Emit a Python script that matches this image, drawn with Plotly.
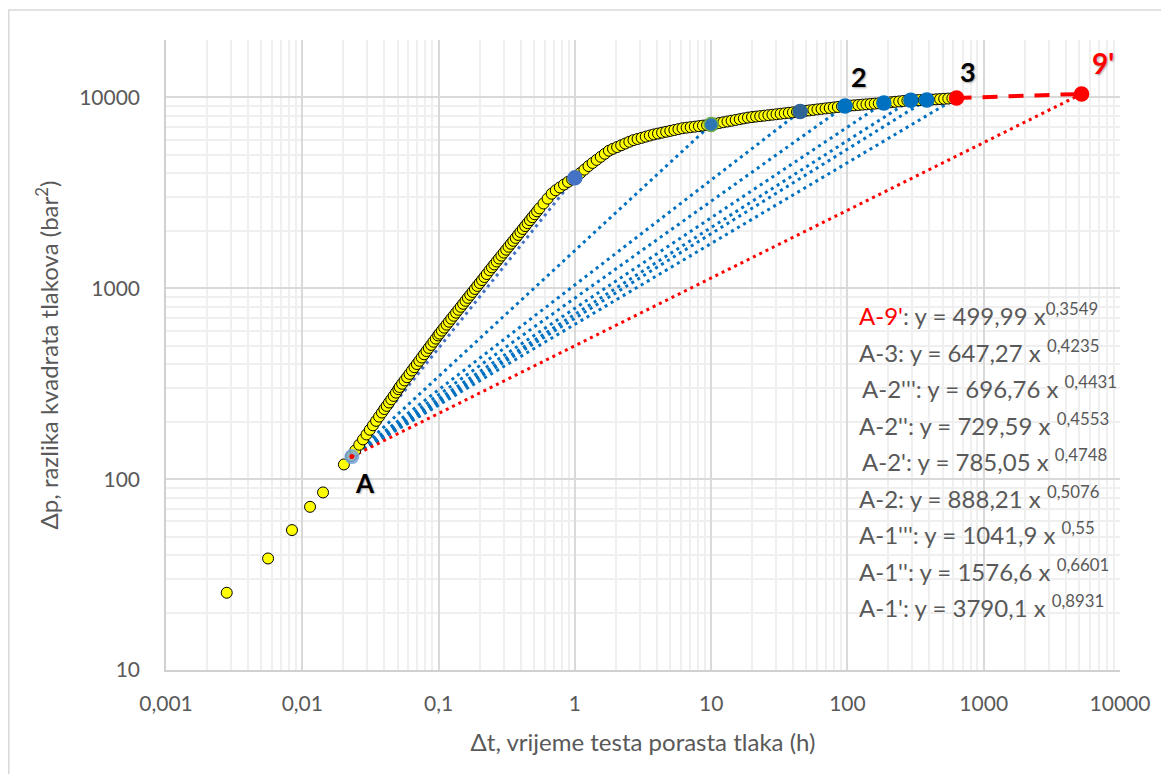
import numpy as np
import plotly.graph_objects as go

# ---------------- data ----------------
# measured build-up data: time (h) and delta p^2 (bar^2)
t_h = [0.00279, 0.00561, 0.0084, 0.0114, 0.0142, 0.0202,
       0.0229, 0.0245, 0.0262, 0.0279, 0.0296, 0.0313, 0.0330, 0.0348, 0.0366, 0.0384,
       0.0400, 0.0416, 0.0433, 0.0450, 0.0468, 0.0487, 0.0507, 0.0518, 0.0540, 0.0563,
       0.0587, 0.0612, 0.0638, 0.0665, 0.0693, 0.0722, 0.0752, 0.0783, 0.0815, 0.0848,
       0.0882, 0.0917, 0.0954, 0.0992, 0.1016, 0.1057, 0.1100, 0.1145, 0.1192, 0.1240,
       0.1291, 0.1344, 0.1398, 0.1455, 0.1514, 0.1576, 0.1640, 0.1707, 0.1776, 0.1848,
       0.1924, 0.2002, 0.2084, 0.2169, 0.2257, 0.2366, 0.2463, 0.2564, 0.2669, 0.2778,
       0.2892, 0.3010, 0.3133, 0.3261, 0.3395, 0.3534, 0.3679, 0.3830, 0.3987, 0.4150,
       0.4320, 0.4497, 0.4681, 0.4873, 0.5073, 0.5281, 0.5495, 0.589, 0.631, 0.676,
       0.724, 0.776, 0.832, 0.891, 0.955, 1.023, 1.096, 1.175, 1.259, 1.349,
       1.445, 1.549, 1.660, 1.778, 1.905, 2.042, 2.188, 2.344, 2.512, 2.692,
       2.884, 3.090, 3.311, 3.548, 3.802, 4.074, 4.365, 4.677, 5.012, 5.370,
       5.754, 6.166, 6.607, 7.079, 7.586, 8.128, 8.710, 9.333, 10.0, 10.72,
       11.48, 12.30, 13.18, 14.13, 15.14, 16.22, 17.38, 18.62, 19.95, 21.38,
       22.91, 24.55, 26.30, 28.18, 30.20, 32.36, 34.67, 37.15, 39.81, 42.66,
       45.71, 48.98, 52.48, 56.23, 60.26, 64.57, 69.18, 74.13, 79.43, 85.11,
       91.20, 97.72, 104.7, 112.2, 120.2, 128.8, 138.0, 147.9, 158.5, 169.8,
       182.0, 195.0, 208.9, 223.9, 239.9, 257.0, 275.4, 295.1, 316.2, 338.8,
       363.1, 389.0, 416.9, 446.7, 478.6, 512.9, 549.5, 588.8]
dp_bar2 = [25.4, 38.4, 54.1, 71.6, 85.2, 119.4,
           132, 141.5, 151.5, 161.5, 171.5, 181.5, 191.5, 202, 212.6, 223.3,
           233, 242, 252, 262, 273, 284, 296, 304, 316, 329,
           342, 356, 371, 386, 401, 417, 434, 451, 469, 487,
           505, 525, 545, 566, 579, 600, 622, 645, 668, 693,
           718, 745, 772, 800, 829, 860, 891, 924, 957, 992,
           1029, 1066, 1105, 1146, 1188, 1242, 1287, 1334, 1382, 1432,
           1484, 1538, 1593, 1651, 1711, 1773, 1837, 1904, 1973, 2045,
           2119, 2195, 2275, 2358, 2443, 2532, 2623, 2782, 2951, 3131,
           3262, 3376, 3495, 3609, 3717, 3845, 4012, 4187, 4369, 4538,
           4709, 4886, 5069, 5259, 5381, 5497, 5615, 5735, 5859, 5975,
           6059, 6144, 6231, 6318, 6401, 6469, 6539, 6609, 6680, 6752,
           6825, 6900, 6943, 6987, 7031, 7075, 7119, 7165, 7210, 7278,
           7346, 7413, 7483, 7553, 7624, 7695, 7768, 7840, 7893, 7938,
           7983, 8028, 8074, 8120, 8166, 8213, 8260, 8307, 8354, 8402,
           8452, 8503, 8554, 8605, 8657, 8709, 8761, 8810, 8863, 8916,
           8970, 9021, 9057, 9094, 9130, 9168, 9204, 9242, 9279, 9317,
           9354, 9391, 9441, 9487, 9535, 9583, 9632, 9674, 9681, 9690,
           9698, 9712, 9744, 9775, 9807, 9836, 9869, 9901]

# start point A and end points of the fitted lines
point_A = (0.0231, 131.3)
end_names = ["1'", "1''", "1'''", "2", "2'", "2''", "2'''", "3", "9'"]
end_x = [1.0, 10.0, 45.0, 96.0, 185.0, 292.0, 382.0, 632.0, 5224.0]
end_y = [3790, 7210, 8440, 9010, 9360, 9675, 9706, 9934, 10434]
end_colors = ["#4472C4", "#2E75B6", "#2F6497", "#0070C0", "#0070C0", "#0070C0",
              "#0070C0", "#FF0000", "#FF0000"]
line_colors = ["#4472C4", "#0070C0", "#0070C0", "#0070C0", "#0070C0", "#0070C0",
               "#0070C0", "#0070C0", "#FF0000"]

# trend line equations (label, coefficient, exponent)
eq_labels = ["A-9'", "A-3", "A-2'''", "A-2''", "A-2'", "A-2", "A-1'''", "A-1''", "A-1'"]
eq_coef = ["499,99", "647,27", "696,76", "729,59", "785,05", "888,21", "1041,9", "1576,6", "3790,1"]
eq_exp = ["0,3549", "0,4235", "0,4431", "0,4553", "0,4748", "0,5076", "0,55", "0,6601", "0,8931"]

x_tickvals = [0.001, 0.01, 0.1, 1, 10, 100, 1000, 10000]
x_ticktext = ["0,001", "0,01", "0,1", "1", "10", "100", "1000", "10000"]
y_tickvals = [10, 100, 1000, 10000]
y_ticktext = ["10", "100", "1000", "10000"]

# ---------------- figure ----------------
FONT = "Lato"
GREY = "#595959"
# page body has an 8px margin: plot area wanted at x 166..1120, y 40..670 on screen
OFF = 8
PL, PR, PT, PB = 166, 1120, 40, 670
PW, PH = PR - PL, PB - PT
FIG_W, FIG_H = 1169 - 2 * OFF, 782 - 2 * OFF

fig = go.Figure()

# dotted fit lines A -> end point
for name, ex, ey, lc in zip(end_names, end_x, end_y, line_colors):
    fig.add_trace(go.Scatter(x=[point_A[0], ex], y=[point_A[1], ey], mode="lines",
                             line=dict(color=lc, width=3, dash="3px,4px"),
                             hoverinfo="skip", showlegend=False))

# dashed 3 -> 9'
fig.add_trace(go.Scatter(x=[end_x[7], end_x[8]], y=[end_y[7], end_y[8]], mode="lines",
                         line=dict(color="#FF0000", width=4, dash="15px,11px"),
                         showlegend=False))

# measured data
fig.add_trace(go.Scatter(x=t_h, y=dp_bar2, mode="markers",
                         marker=dict(size=11, color="#FFFF00", line=dict(color="#000000", width=1)),
                         showlegend=False))

# point A
fig.add_trace(go.Scatter(x=[point_A[0]], y=[point_A[1]], mode="markers",
                         marker=dict(size=15, color="rgba(120,165,220,0.85)"),
                         showlegend=False))
fig.add_trace(go.Scatter(x=[point_A[0]], y=[point_A[1]], mode="markers",
                         marker=dict(size=5, color="#FF0000"), showlegend=False))

# end points
outline = ["#4472C4", "#70AD47", "#2F6497", "#0070C0", "#0070C0", "#0070C0", "#0070C0",
           "#FF0000", "#FF0000"]
fig.add_trace(go.Scatter(x=end_x, y=end_y, mode="markers",
                         marker=dict(size=14, color=end_colors,
                                     line=dict(color=outline, width=1.5)),
                         showlegend=False))

annotations = []
# point labels
for txt, lx, ly, col, fs in [("A", 0.0288, 95.4, "#000000", 26), ("2", 121.5, 12846, "#000000", 27),
                             ("3", 766, 13640, "#000000", 27), ("9'", 7499, 15245, "#FF0000", 28)]:
    annotations.append(dict(x=np.log10(lx), y=np.log10(ly), xref="x", yref="y",
                            text="<b>%s</b>" % txt, showarrow=False,
                            font=dict(family=FONT, size=fs, color=col,
                                      shadow="1px 1px 2px rgba(0,0,0,0.35)"),
                            xanchor="center", yanchor="middle"))

# equations
eq_y_px = [311.7, 348, 384.5, 421, 457.5, 494, 530.5, 567, 603]
for i, (lab, c, e) in enumerate(zip(eq_labels, eq_coef, eq_exp)):
    lab_html = '<span style="color:#FF0000">%s</span>' % lab if i == 0 else lab
    sp = "" if i == 0 else " "
    txt = "%s: y = %s x%s<sup>%s</sup>" % (lab_html, c, sp, e)
    xpx = 860 if lab in ("A-2'''", "A-2'") else 857
    annotations.append(dict(x=(xpx - PL) / PW, y=(PB - eq_y_px[i]) / PH - 0.004,
                            xref="paper", yref="paper", text=txt, showarrow=False,
                            xanchor="left", yanchor="middle",
                            font=dict(family=FONT, size=24, color=GREY)))

minor_x = [m * 10.0 ** k for k in range(-3, 4) for m in range(2, 10)]
minor_y = [m * 10.0 ** k for k in range(1, 5) for m in range(2, 10)]

fig.update_layout(
    width=FIG_W, height=FIG_H,
    margin=dict(l=PL - OFF, r=FIG_W - (PR - OFF), t=PT - OFF, b=FIG_H - (PB - OFF)),
    paper_bgcolor="white", plot_bgcolor="white",
    annotations=annotations,
    shapes=[dict(type="rect", xref="paper", yref="paper",
                 x0=(8.8 - PL) / PW, x1=1.2, y0=-0.4, y1=(PB - 10) / PH,
                 line=dict(color="#D9D9D9", width=1.5), fillcolor="rgba(0,0,0,0)",
                 layer="below")],
    xaxis=dict(type="log", range=[-3, 4], tickmode="array", tickvals=x_tickvals,
               ticktext=x_ticktext, showgrid=True, gridcolor="#D9D9D9", gridwidth=1.5,
               minor=dict(tickmode="array", tickvals=minor_x, showgrid=True,
                          gridcolor="#EFEFEF", gridwidth=1.5, ticks=""),
               showline=True, linecolor="#D0D0D0", linewidth=1.5, ticks="",
               zeroline=False,
               tickfont=dict(family=FONT, size=21, color=GREY), ticklabelstandoff=14,
               title=dict(text="Δt, vrijeme testa porasta tlaka (h)",
                          font=dict(family=FONT, size=24, color=GREY), standoff=20)),
    yaxis=dict(type="log", range=[1, np.log10(20000)], tickmode="array", tickvals=y_tickvals,
               ticktext=y_ticktext, showgrid=True, gridcolor="#D9D9D9", gridwidth=1.5,
               minor=dict(tickmode="array", tickvals=minor_y, showgrid=True,
                          gridcolor="#EFEFEF", gridwidth=1.5, ticks=""),
               showline=True, linecolor="#D0D0D0", linewidth=1.5, ticks="",
               zeroline=False,
               tickfont=dict(family=FONT, size=21, color=GREY), ticklabelstandoff=20,
               title=dict(text="Δp, razlika kvadrata tlakova (bar<sup>2</sup>)",
                          font=dict(family=FONT, size=24, color=GREY), standoff=14)),
)

fig.write_html("out.html")
